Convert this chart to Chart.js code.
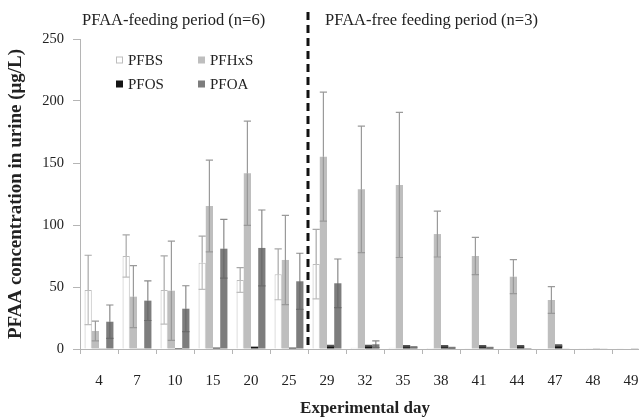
<!DOCTYPE html>
<html lang="en">
<head>
<meta charset="UTF-8">
<title>PFAA concentration in urine</title>
<style>
  html, body { margin: 0; padding: 0; background: #fff; overflow: hidden; }
  .wrap { width: 639px; height: 419px; overflow: hidden; }
</style>
</head>
<body>
<div class="wrap"><canvas id="myChart" width="660" height="419"></canvas></div>
<script src="https://cdn.jsdelivr.net/npm/chart.js@4.4.0/dist/chart.umd.min.js"></script>
<script>
  // experimental days (categories)
  const days = ['4', '7', '10', '15', '20', '25', '29', '32', '35', '38', '41', '44', '47', '48', '49'];
  const yTicks = [0, 50, 100, 150, 200, 250];
  const periodLabels = ['PFAA-feeding period (n=6)', 'PFAA-free feeding period (n=3)'];
  const splitAfter = 5; // feeding stops after day 25

  // mean values (ug/L)
  const pfbs  = [47.6, 75, 47.6, 69.6, 55.6, 60.2, 68.5, 1, 1, 0.8, 0.6, 0.5, 0.5, 0.3, 0.3];
  const pfhxs = [14.5, 42.2, 47, 115.3, 141.7, 71.8, 155.1, 128.8, 132.3, 92.7, 75, 58.3, 39.5, 0.5, 0.4];
  const pfos  = [0.3, 0.3, 0.8, 1.1, 1.9, 1.1, 2.5, 2.5, 2.2, 2.2, 2.2, 2.2, 2.8, 0.3, 0.3];
  const pfoa  = [22, 39, 32.5, 80.9, 81.5, 54.6, 53, 3.8, 1.5, 1, 1, 0.8, 0.5, 0.3, 0.3];

  // standard deviations
  const pfbsErr  = [28, 17, 27.5, 21.5, 10, 20.5, 28, 0, 0, 0, 0, 0, 0, 0, 0];
  const pfhxsErr = [8, 25, 40, 37, 42, 36, 52, 51, 58.5, 18.5, 15, 13.7, 10.8, 0, 0];
  const pfosErr  = [0, 0, 0, 0, 0, 0, 0.5, 0.5, 0.5, 0.5, 0.5, 0.5, 0.5, 0, 0];
  const pfoaErr  = [13.5, 16, 18.5, 23.7, 30.6, 22.6, 19.6, 2.7, 0.5, 0.3, 0.3, 0, 0, 0, 0];

  const serif = "'Liberation Serif', 'Times New Roman', serif";

  // error bars: upper whisker outside, lower whisker drawn inside the bar
  const errorBars = {
    id: 'errorBars',
    afterDatasetsDraw(chart) {
      const ctx = chart.ctx;
      const y = chart.scales.y;
      chart.data.datasets.forEach((ds, i) => {
        const meta = chart.getDatasetMeta(i);
        meta.data.forEach((bar, j) => {
          const e = ds.errors[j];
          if (!e) return;
          const v = ds.data[j];
          const yTop = y.getPixelForValue(v + e);
          const yLow = y.getPixelForValue(Math.max(v - e, 0));
          const x = bar.x;
          const half = bar.width / 2;
          ctx.save();
          ctx.lineWidth = 1.2;
          ctx.strokeStyle = ds.errColor;
          ctx.beginPath();
          ctx.moveTo(x, bar.y);
          ctx.lineTo(x, yTop);
          ctx.moveTo(x - half, yTop);
          ctx.lineTo(x + half, yTop);
          ctx.stroke();
          ctx.strokeStyle = ds.innerColor;
          ctx.beginPath();
          ctx.moveTo(x, bar.y);
          ctx.lineTo(x, yLow);
          ctx.moveTo(x - half, yLow);
          ctx.lineTo(x + half, yLow);
          ctx.stroke();
          ctx.restore();
        });
      });
    }
  };

  // dashed separator, period labels and a 2x2 legend
  const decorations = {
    id: 'decorations',
    afterDraw(chart) {
      const ctx = chart.ctx;
      const xs = chart.scales.x;
      const area = chart.chartArea;
      const xSplit = (xs.getPixelForValue(splitAfter) + xs.getPixelForValue(splitAfter + 1)) / 2;

      ctx.save();
      ctx.strokeStyle = '#111';
      ctx.lineWidth = 3;
      ctx.setLineDash([8, 5]);
      ctx.beginPath();
      ctx.moveTo(xSplit, 12);
      ctx.lineTo(xSplit, area.bottom);
      ctx.stroke();
      ctx.restore();

      ctx.save();
      ctx.fillStyle = '#222';
      ctx.font = '16.5px ' + serif;
      ctx.textBaseline = 'middle';
      ctx.textAlign = 'left';
      ctx.fillText(periodLabels[0], area.left + 2, 21);
      ctx.fillText(periodLabels[1], xSplit + 17, 21);
      ctx.restore();

      // legend
      const cols = [area.left + 36, area.left + 118];
      const rows = [60, 84];
      ctx.save();
      ctx.font = '15px ' + serif;
      ctx.textBaseline = 'middle';
      chart.data.datasets.forEach((ds, i) => {
        const lx = cols[i % 2];
        const ly = rows[Math.floor(i / 2)];
        ctx.fillStyle = ds.backgroundColor;
        ctx.fillRect(lx, ly - 3.5, 7, 7);
        if (ds.borderWidth) {
          ctx.strokeStyle = ds.borderColor;
          ctx.lineWidth = 1;
          ctx.strokeRect(lx + 0.5, ly - 3, 6, 6);
        }
        ctx.fillStyle = '#222';
        ctx.fillText(ds.label, lx + 12, ly + 1);
      });
      ctx.restore();
    }
  };

  const ctx = document.getElementById('myChart');
  new Chart(ctx, {
    type: 'bar',
    data: {
      labels: days,
      datasets: [
        { label: 'PFBS', data: pfbs, errors: pfbsErr, backgroundColor: '#ffffff', borderColor: '#bdbdbd', borderWidth: 1, errColor: '#a8a8a8', innerColor: '#bdbdbd' },
        { label: 'PFHxS', data: pfhxs, errors: pfhxsErr, backgroundColor: '#bebebe', borderWidth: 0, errColor: '#9a9a9a', innerColor: '#999999' },
        { label: 'PFOS', data: pfos, errors: pfosErr, backgroundColor: '#141414', borderWidth: 0, errColor: '#555', innerColor: '#444' },
        { label: 'PFOA', data: pfoa, errors: pfoaErr, backgroundColor: '#7d7d7d', borderWidth: 0, errColor: '#8a8a8a', innerColor: '#6a6a6a' }
      ]
    },
    options: {
      responsive: false,
      animation: false,
      devicePixelRatio: 1,
      layout: { padding: { left: 0, right: 10, top: 39, bottom: 0 } },
      plugins: {
        legend: { display: false },
        tooltip: { enabled: false }
      },
      datasets: {
        bar: { categoryPercentage: 0.76, barPercentage: 1 }
      },
      scales: {
        x: {
          grid: { display: true, drawOnChartArea: false, drawTicks: true, tickLength: 5, color: '#b5b5b5', offset: true },
          border: { display: true, color: '#b5b5b5' },
          ticks: { color: '#222', font: { family: serif, size: 15 }, padding: 18, maxRotation: 0, autoSkip: false },
          title: { display: true, text: 'Experimental day', color: '#222', font: { family: serif, size: 17, weight: 'bold' }, padding: { top: 0, bottom: 0 } },
          afterFit(s) { s.height = 70; }
        },
        y: {
          min: 0,
          max: 250,
          afterBuildTicks(s) { s.ticks = yTicks.map(v => ({ value: v })); },
          grid: { display: true, drawOnChartArea: false, drawTicks: true, tickLength: 7, color: '#b5b5b5' },
          border: { display: true, color: '#b5b5b5' },
          ticks: { color: '#222', font: { family: serif, size: 14.5 }, padding: 9 },
          title: { display: true, text: 'PFAA concentration in urine (\u03bcg/L)', color: '#222', font: { family: serif, size: 19, weight: 'bold' }, padding: { top: 5, bottom: 0 } },
          afterFit(s) { s.width = 80; }
        }
      }
    },
    plugins: [errorBars, decorations]
  });
</script>
</body>
</html>
